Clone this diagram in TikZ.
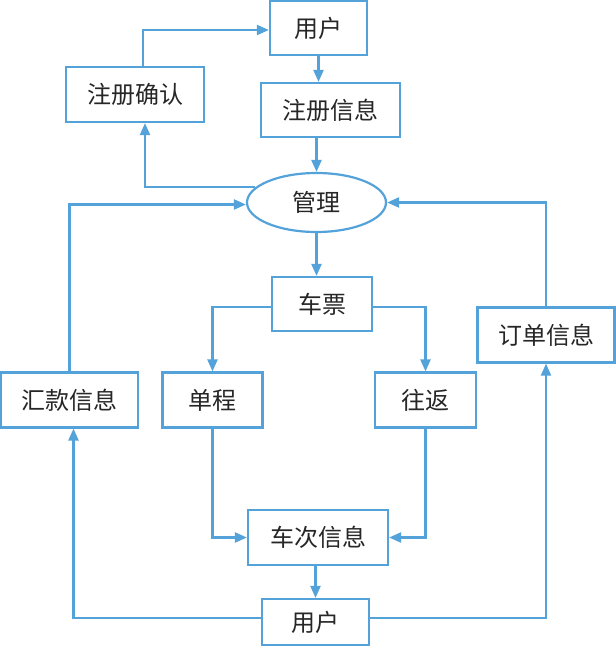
\documentclass[tikz,border=0pt]{standalone}
\usepackage{fontspec}
\newfontfamily\cjk{Noto Sans CJK SC}
\usepackage{tikz}
\usetikzlibrary{arrows.meta,shapes.geometric}
\usepackage{xcolor}
\definecolor{flowblue}{RGB}{84,162,218}

\begin{document}
\begin{tikzpicture}[x=1pt,y=-1pt,>={Triangle[length=12pt,width=10pt]},
  font=\cjk\fontsize{24}{28}\selectfont,
  box/.style={draw=flowblue,line width=2.2pt,inner sep=0pt,text=black!85},
  flow/.style={->,flowblue,line width=2.2pt}]
\useasboundingbox (0,0) rectangle (616,646);
% nodes
\node[box,minimum width=97pt,minimum height=54pt] (user1) at (318.5,28) {用户};
\node[box,minimum width=139pt,minimum height=54pt] (reginfo) at (330.5,110) {注册信息};
\node[box,minimum width=138pt,minimum height=55pt] (regok) at (135,94.5) {注册确认};
\node[box,ellipse,minimum width=139pt,minimum height=59pt] (mgmt) at (316.5,202.5) {管理};
\node[box,minimum width=100pt,minimum height=54pt] (ticket) at (322,304) {车票};
\node[box,minimum width=100pt,minimum height=55pt] (single) at (212.5,400) {单程};
\node[box,minimum width=101pt,minimum height=55pt] (round) at (425.5,400) {往返};
\node[box,minimum width=137pt,minimum height=55pt] (remit) at (69.5,400) {汇款信息};
\node[box,minimum width=137pt,minimum height=55pt] (order) at (546,335) {订单信息};
\node[box,minimum width=140pt,minimum height=55pt] (trainfo) at (318,537.5) {车次信息};
\node[box,minimum width=107pt,minimum height=46pt] (user2) at (315.5,622) {用户};
% connectors
\draw[flow] (user1.south) -- (user1 |- reginfo.north);
\draw[flow] (reginfo.south -| mgmt) -- (mgmt.north);
\draw[flow] (mgmt.166) -| ([xshift=10pt]regok.south);
\draw[flow] ([xshift=8pt]regok.north) |- ([yshift=-2pt]user1.west);
\draw[flow] (remit.north) |- ([yshift=-2pt]mgmt.west);
\draw[flow] (order.north) |- (mgmt.east);
\draw[flow] (mgmt.south) -- (mgmt |- ticket.north);
\draw[flow] ([yshift=-3pt]ticket.west) -| (single.north);
\draw[flow] ([yshift=-3pt]ticket.east) -| (round.north);
\draw[flow] (single.south) |- (trainfo.west);
\draw[flow] (round.south) |- (trainfo.east);
\draw[flow] (trainfo.south -| user2) -- (user2.north);
\draw[flow] ([yshift=4pt]user2.west) -| ([xshift=4pt]remit.south);
\draw[flow] ([yshift=4pt]user2.east) -| (order.south);
\end{tikzpicture}
\end{document}
